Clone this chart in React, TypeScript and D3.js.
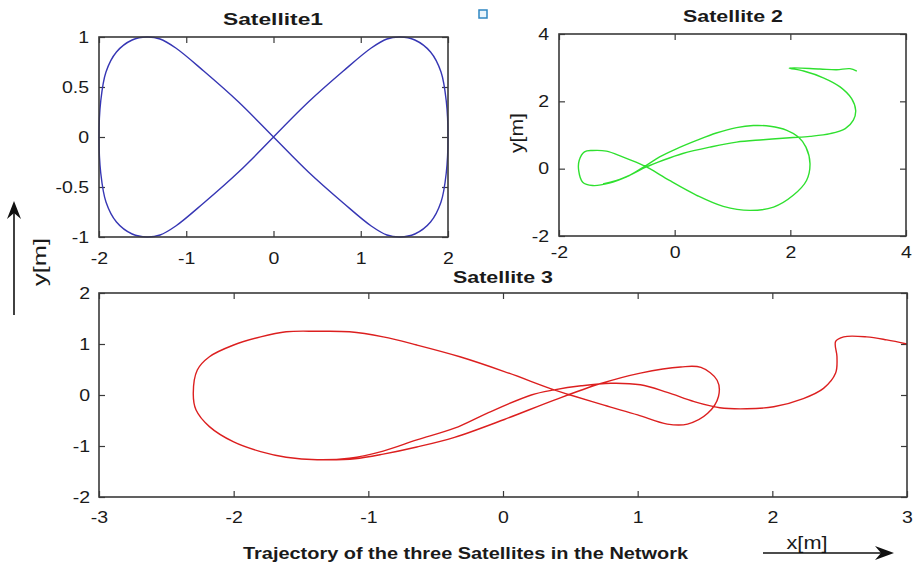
import React, { useEffect, useRef } from 'react';
import * as d3 from 'd3';

const WIDTH = 914;
const HEIGHT = 567;
const FONT = '"Liberation Sans", Arial, sans-serif';
const AXIS = '#3a3a3a';
const TEXT = '#1a1a1a';

// Satellite 1: figure eight
const sat1X = [0, 0.4, 0.8, 1.12, 1.3, 1.45, 1.62, 1.8, 1.92, 1.98, 2.0, 1.98, 1.92, 1.8, 1.62, 1.45, 1.3, 1.12, 0.8, 0.4, 0,
  -0.4, -0.8, -1.12, -1.3, -1.45, -1.62, -1.8, -1.92, -1.98, -2.0, -1.98, -1.92, -1.8, -1.62, -1.45, -1.3, -1.12, -0.8, -0.4, 0];
const sat1Y = [0, 0.35, 0.66, 0.89, 0.98, 1.0, 0.97, 0.85, 0.65, 0.36, 0, -0.36, -0.65, -0.85, -0.97, -1.0, -0.98, -0.89, -0.66, -0.35, 0,
  0.35, 0.66, 0.89, 0.98, 1.0, 0.97, 0.85, 0.65, 0.36, 0, -0.36, -0.65, -0.85, -0.97, -1.0, -0.98, -0.89, -0.66, -0.35, 0];

// Satellite 2
const sat2X = [3.15, 3.03, 2.8, 2.51, 1.98, 2.23, 2.57, 2.86, 3.06, 3.13, 3.09, 2.95, 2.69, 2.34, 1.99, 1.53, 1.07, 0.61,
  0.14, -0.2, -0.49, -0.78, -1.13, -1.42, -1.59, -1.66, -1.65, -1.56, -1.42, -1.18, -0.9, -0.61, -0.43, -0.09, 0.38,
  0.84, 1.3, 1.71, 2.05, 2.28, 2.34, 2.27, 2.14, 1.94, 1.65, 1.36, 1.07, 0.72, 0.38, 0.03, -0.26, -0.49, -0.84, -1.24];
const sat2Y = [2.9, 2.97, 2.94, 2.96, 2.99, 2.9, 2.7, 2.43, 2.08, 1.73, 1.44, 1.19, 1.04, 0.96, 0.92, 0.86, 0.79, 0.64,
  0.45, 0.25, 0.05, -0.2, -0.43, -0.5, -0.4, -0.05, 0.25, 0.5, 0.54, 0.52, 0.35, 0.15, 0.0, -0.35, -0.79,
  -1.12, -1.24, -1.14, -0.79, -0.35, 0.15, 0.64, 0.94, 1.14, 1.26, 1.28, 1.22, 1.06, 0.84, 0.59, 0.35, 0.1, -0.25, -0.45];

// Satellite 3
const sat3X = [3.0, 2.85, 2.7, 2.53, 2.47, 2.48, 2.47, 2.38, 2.23, 2.01, 1.81, 1.61, 1.42, 1.22, 1.02, 0.8, 0.58, 0.38,
  0.21, -0.12, -0.36, -0.64, -0.89, -1.14, -1.38, -1.61, -1.8, -2.0, -2.18, -2.28, -2.3, -2.27, -2.18, -2.0, -1.8,
  -1.61, -1.38, -1.14, -0.89, -0.64, -0.32, 0.01, 0.38, 0.5, 0.75, 1.0, 1.22, 1.37, 1.52, 1.6, 1.59, 1.47, 1.32, 1.02,
  0.72, 0.38, 0.01, -0.36, -0.64, -0.89, -1.1, -1.3];
const sat3Y = [1.0, 1.08, 1.14, 1.14, 1.05, 0.75, 0.43, 0.13, -0.07, -0.23, -0.27, -0.25, -0.13, 0.05, 0.2, 0.23, 0.18, 0.1,
  0.0, -0.36, -0.65, -0.88, -1.1, -1.24, -1.27, -1.22, -1.11, -0.92, -0.62, -0.29, 0.03, 0.49, 0.75, 0.98, 1.14,
  1.24, 1.25, 1.24, 1.14, 0.98, 0.75, 0.46, 0.1, 0.0, -0.2, -0.39, -0.57, -0.57, -0.36, -0.03, 0.29, 0.54, 0.55, 0.43,
  0.22, -0.1, -0.48, -0.83, -1.02, -1.16, -1.25, -1.27];

const sat1XTicks = [-2, -1, 0, 1, 2];
const sat1YTicks = [-1, -0.5, 0, 0.5, 1];
const sat2XTicks = [-2, 0, 2, 4];
const sat2YTicks = [-2, 0, 2, 4];
const sat3XTicks = [-3, -2, -1, 0, 1, 2, 3];
const sat3YTicks = [-2, -1, 0, 1, 2];

function drawPanel(root, p) {
  const x = d3.scaleLinear().domain(p.xDomain).range([p.left, p.right]);
  const y = d3.scaleLinear().domain(p.yDomain).range([p.bottom, p.top]);
  const g = root.append('g');

  const styleAxis = (sel) => {
    sel.select('.domain').remove();
    sel.selectAll('line').attr('stroke', AXIS).attr('stroke-width', 1.2);
    sel.selectAll('text')
      .attr('fill', TEXT)
      .attr('font-size', 16)
      .attr('font-family', FONT)
      .attr('transform', 'scale(1.22,1)');
  };
  const fmt = (d) => String(d);

  g.append('g').attr('transform', `translate(0,${p.bottom})`)
    .call(d3.axisBottom(x).tickValues(p.xTicks).tickFormat(fmt).tickSizeInner(-6).tickSizeOuter(0).tickPadding(p.xPad))
    .call(styleAxis);
  g.append('g').attr('transform', `translate(${p.left},0)`)
    .call(d3.axisLeft(y).tickValues(p.yTicks).tickFormat(fmt).tickSizeInner(-6).tickSizeOuter(0).tickPadding(p.yPad / 1.22))
    .call(styleAxis);
  g.append('g').attr('transform', `translate(0,${p.top})`)
    .call(d3.axisTop(x).tickValues(p.xTicks).tickFormat(() => '').tickSizeInner(-6).tickSizeOuter(0))
    .call(styleAxis);
  g.append('g').attr('transform', `translate(${p.right},0)`)
    .call(d3.axisRight(y).tickValues(p.yTicks).tickFormat(() => '').tickSizeInner(-6).tickSizeOuter(0))
    .call(styleAxis);

  const line = d3.line()
    .x((i) => x(p.xs[i]))
    .y((i) => y(p.ys[i]))
    .curve(d3.curveCatmullRom.alpha(0.5));

  g.append('path')
    .attr('d', line(d3.range(p.xs.length)))
    .attr('fill', 'none')
    .attr('stroke', p.color)
    .attr('stroke-width', 1.4);

  g.append('rect')
    .attr('x', p.left)
    .attr('y', p.top)
    .attr('width', p.right - p.left)
    .attr('height', p.bottom - p.top)
    .attr('fill', 'none')
    .attr('stroke', AXIS)
    .attr('stroke-width', 1.6);

  g.append('text')
    .attr('x', p.titleX - 50)
    .attr('y', p.titleY)
    .attr('textLength', 100)
    .attr('lengthAdjust', 'spacingAndGlyphs')
    .attr('font-family', FONT)
    .attr('font-weight', 'bold')
    .attr('font-size', 17)
    .attr('fill', TEXT)
    .text(p.title);
}

export default function App() {
  const ref = useRef(null);

  useEffect(() => {
    const svg = d3.select(ref.current);
    svg.selectAll('*').remove();

    drawPanel(svg, {
      left: 99, right: 448, top: 37, bottom: 237,
      xDomain: [-2, 2], yDomain: [-1, 1], xTicks: sat1XTicks, yTicks: sat1YTicks,
      xPad: 16, yPad: 10, xs: sat1X, ys: sat1Y, color: '#3636b4',
      title: 'Satellite1', titleX: 273, titleY: 25,
    });
    drawPanel(svg, {
      left: 559, right: 906, top: 34, bottom: 236,
      xDomain: [-2, 4], yDomain: [-2, 4], xTicks: sat2XTicks, yTicks: sat2YTicks,
      xPad: 11, yPad: 10, xs: sat2X, ys: sat2Y, color: '#2fe02f',
      title: 'Satellite 2', titleX: 733, titleY: 22,
    });
    drawPanel(svg, {
      left: 99, right: 907, top: 293, bottom: 497,
      xDomain: [-3, 3], yDomain: [-2, 2], xTicks: sat3XTicks, yTicks: sat3YTicks,
      xPad: 15, yPad: 9, xs: sat3X, ys: sat3Y, color: '#dc1f1f',
      title: 'Satellite 3', titleX: 503, titleY: 283,
    });

    // small legend-like square
    svg.append('rect')
      .attr('x', 479).attr('y', 10).attr('width', 8).attr('height', 8)
      .attr('fill', '#eaf5fc').attr('stroke', '#2f86c2').attr('stroke-width', 1.5);

    // y[m] labels
    svg.append('text')
      .attr('transform', 'translate(523,133) rotate(-90)')
      .attr('text-anchor', 'middle')
      .attr('textLength', 40).attr('lengthAdjust', 'spacingAndGlyphs')
      .attr('font-family', FONT).attr('font-size', 18).attr('fill', TEXT)
      .text('y[m]');
    svg.append('text')
      .attr('transform', 'translate(46,262) rotate(-90)')
      .attr('text-anchor', 'middle')
      .attr('textLength', 48).attr('lengthAdjust', 'spacingAndGlyphs')
      .attr('font-family', FONT).attr('font-size', 19).attr('fill', TEXT)
      .text('y[m]');

    // vertical arrow
    svg.append('line')
      .attr('x1', 14).attr('y1', 315).attr('x2', 14).attr('y2', 210)
      .attr('stroke', '#111').attr('stroke-width', 1.6);
    svg.append('path')
      .attr('d', 'M14,201 L21,219 L14,213 L7,219 Z')
      .attr('fill', '#111');

    // x[m] label + arrow
    svg.append('text')
      .attr('x', 807).attr('y', 549)
      .attr('text-anchor', 'middle')
      .attr('textLength', 41).attr('lengthAdjust', 'spacingAndGlyphs')
      .attr('font-family', FONT).attr('font-size', 19).attr('fill', TEXT)
      .text('x[m]');
    svg.append('line')
      .attr('x1', 763).attr('y1', 553).attr('x2', 885).attr('y2', 553)
      .attr('stroke', '#111').attr('stroke-width', 1.6);
    svg.append('path')
      .attr('d', 'M894,553 L875,546 L881,553 L875,560 Z')
      .attr('fill', '#111');

    // caption
    svg.append('text')
      .attr('x', 243).attr('y', 559)
      .attr('textLength', 445).attr('lengthAdjust', 'spacingAndGlyphs')
      .attr('font-family', FONT).attr('font-weight', 'bold').attr('font-size', 16).attr('fill', TEXT)
      .text('Trajectory of the three Satellites in the Network');
  }, []);

  return (
    <svg
      ref={ref}
      width={WIDTH}
      height={HEIGHT}
      style={{ position: 'absolute', left: 0, top: 0, background: '#fff' }}
    ></svg>
  );
}
